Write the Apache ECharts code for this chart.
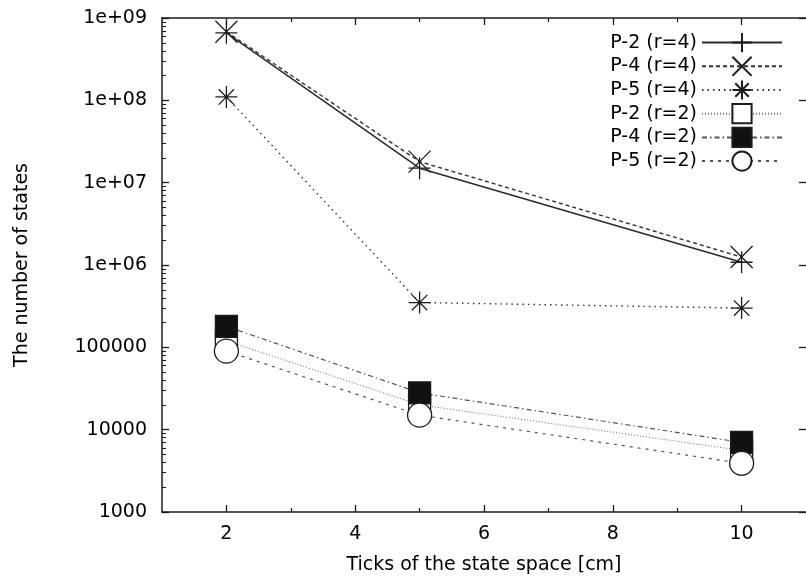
<!DOCTYPE html>
<html>
<head>
<meta charset="utf-8">
<title>states</title>
<script src="https://cdn.jsdelivr.net/npm/echarts@6/dist/echarts.min.js"></script>
<style>
  html, body { margin: 0; padding: 0; background: #fff; }
  #chart { width: 806px; height: 583px; }
</style>
</head>
<body>
<div id="chart"></div>
<script>
// data
var ticksCm = [2, 5, 10];
var p2r4 = [6.6e8, 1.5e7, 1.08e6];
var p4r4 = [6.8e8, 1.8e7, 1.25e6];
var p5r4 = [1.1e8, 3.5e5, 3.0e5];
var p2r2 = [1.2e5, 2.0e4, 5.6e3];
var p4r2 = [1.8e5, 2.8e4, 7.0e3];
var p5r2 = [9.0e4, 1.5e4, 3.9e3];
var seriesNames = ["P-2 (r=4)", "P-4 (r=4)", "P-5 (r=4)", "P-2 (r=2)", "P-4 (r=2)", "P-5 (r=2)"];

var xLabelValues = [2, 4, 6, 8, 10];
var xMinorValues = [3, 5, 7, 9];
var yTickValues = [1e3, 1e4, 1e5, 1e6, 1e7, 1e8, 1e9];
var yTickLabels = ["1000", "10000", "100000", "1e+06", "1e+07", "1e+08", "1e+09"];

var FONT = "DejaVu Sans";
var FS = 19;
var INK = "#1c1c1c";

// minor log ticks 2..9 per decade, in exponent units
var yMinor = [];
for (var d = 3; d < 9; d++) {
    for (var k = 2; k <= 9; k++) yMinor.push(d + Math.log10(k));
}

function pairs(vals) {
    return vals.map(function (v, i) { return [ticksCm[i], v]; });
}

var SYM = {
    plus: "path://M5 0L5 10M0 5L10 5",
    cross: "path://M0 0L10 10M10 0L0 10",
    star: "path://M5 0L5 10M0 5L10 5M1.5 1.5L8.5 8.5M8.5 1.5L1.5 8.5"
};

function mkSeries(name, vals, sym, size, fill, lineColor, dash, lw) {
    return {
        name: name,
        type: "line",
        data: pairs(vals),
        symbol: sym,
        symbolSize: size,
        showAllSymbol: true,
        animation: false,
        lineStyle: { color: lineColor, width: lw, type: dash },
        itemStyle: { color: fill, borderColor: INK, borderWidth: 1.3 },
        emphasis: { disabled: true }
    };
}

function baseAxis(extra) {
    var a = {
        splitLine: { show: false },
        axisLine: { show: false },
        axisTick: { show: false },
        axisLabel: { show: false }
    };
    for (var key in extra) a[key] = extra[key];
    return a;
}

var chart = echarts.init(document.getElementById("chart"), null, { renderer: "canvas" });

chart.setOption({
    backgroundColor: "#fff",
    animation: false,
    textStyle: { fontFamily: FONT, color: "#000" },
    grid: { left: 162, top: 18, width: 649, height: 494 },
    legend: {
        orient: "vertical",
        right: 18,
        top: 27,
        align: "right",
        itemWidth: 80,
        itemHeight: 24,
        itemGap: 2.5,
        textStyle: { fontFamily: FONT, fontSize: FS, color: "#000" },
        data: seriesNames
    },
    xAxis: [
        baseAxis({
            type: "value", min: 1, max: 11, position: "bottom",
            axisLine: { show: true, lineStyle: { color: INK, width: 1.5 } },
            axisTick: { show: true, inside: true, length: 7, customValues: xLabelValues, lineStyle: { color: INK, width: 1.3 } },
            axisLabel: { show: true, customValues: xLabelValues, margin: 13, fontSize: FS, color: "#000", fontFamily: FONT },
            name: "Ticks of the state space [cm]",
            nameLocation: "middle",
            nameGap: 44,
            nameTextStyle: { fontSize: FS, color: "#000", fontFamily: FONT }
        }),
        baseAxis({
            type: "value", min: 1, max: 11, position: "bottom",
            axisTick: { show: true, inside: true, length: 4, customValues: xMinorValues, lineStyle: { color: INK, width: 1.2 } }
        }),
        baseAxis({
            type: "value", min: 1, max: 11, position: "top",
            axisLine: { show: true, lineStyle: { color: INK, width: 1.5 } },
            axisTick: { show: true, inside: true, length: 7, customValues: xLabelValues, lineStyle: { color: INK, width: 1.3 } }
        }),
        baseAxis({
            type: "value", min: 1, max: 11, position: "top",
            axisTick: { show: true, inside: true, length: 4, customValues: xMinorValues, lineStyle: { color: INK, width: 1.2 } }
        })
    ],
    yAxis: [
        baseAxis({
            type: "log", logBase: 10, min: 1e3, max: 1e9, position: "left",
            axisLine: { show: true, lineStyle: { color: INK, width: 1.5 } },
            axisTick: { show: true, inside: true, length: 7, customValues: yTickValues, lineStyle: { color: INK, width: 1.3 } },
            axisLabel: {
                show: true, customValues: yTickValues, margin: 15, fontSize: FS, color: "#000", fontFamily: FONT,
                formatter: function (v) {
                    var i = Math.round(Math.log10(v)) - 3;
                    return yTickLabels[i];
                }
            },
            name: "The number of states",
            nameLocation: "middle",
            nameGap: 130,
            nameTextStyle: { fontSize: FS, color: "#000", fontFamily: FONT }
        }),
        baseAxis({
            type: "value", min: 3, max: 9, position: "left",
            axisTick: { show: true, inside: true, length: 4, customValues: yMinor, lineStyle: { color: INK, width: 1.1 } }
        }),
        baseAxis({
            type: "value", min: 3, max: 9, position: "right",
            axisTick: { show: true, inside: true, length: 7, customValues: [3, 4, 5, 6, 7, 8, 9], lineStyle: { color: INK, width: 1.3 } }
        })
    ],
    series: [
        mkSeries(seriesNames[0], p2r4, SYM.plus, 22, INK, "#2a2a2a", "solid", 1.5),
        mkSeries(seriesNames[1], p4r4, SYM.cross, 22, INK, "#333", [4, 3], 1.4),
        mkSeries(seriesNames[2], p5r4, SYM.star, 22, INK, "#333", [1.5, 4], 1.4),
        mkSeries(seriesNames[3], p2r2, "rect", 22, "#fff", "#777", [1, 2], 1.1),
        mkSeries(seriesNames[4], p4r2, "rect", 22, "#111", "#555", [5, 3, 1.5, 3], 1.2),
        mkSeries(seriesNames[5], p5r2, "circle", 24, "#fff", "#555", [3, 5], 1.2)
    ]
});
</script>
</body>
</html>
